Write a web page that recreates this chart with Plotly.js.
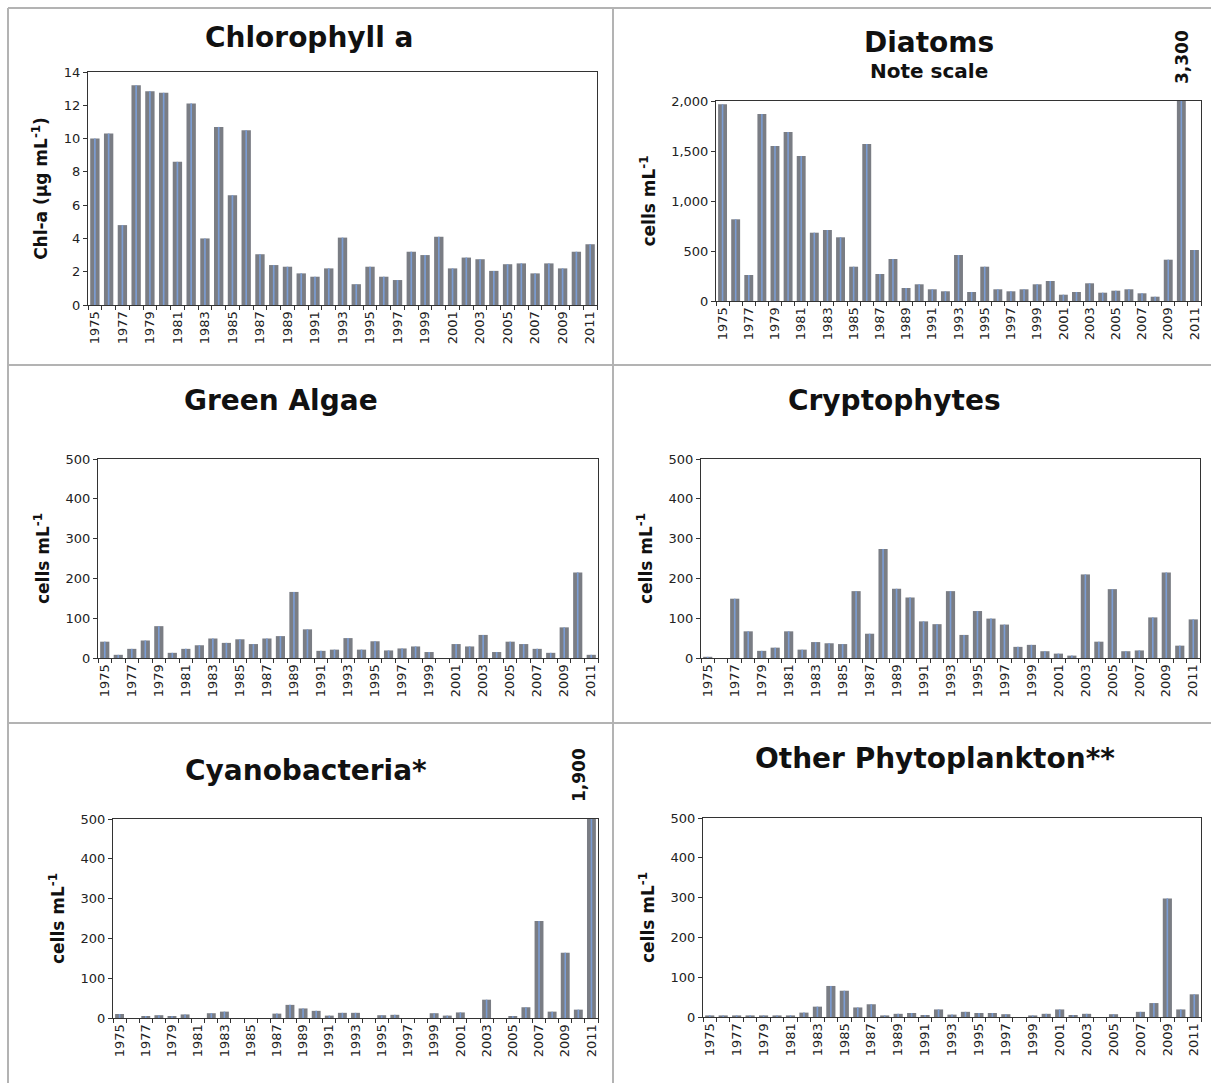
<!DOCTYPE html>
<html><head><meta charset="utf-8">
<script src="https://cdn.plot.ly/plotly-3.0.1.min.js"></script>
<style>html,body{margin:0;padding:0;background:#fff}#chart{width:1211px;height:1083px}</style>
</head><body><div id="chart"></div>
<script>
// ---- data ----
const years = [1975,1976,1977,1978,1979,1980,1981,1982,1983,1984,1985,1986,1987,1988,1989,1990,1991,1992,1993,1994,1995,1996,1997,1998,1999,2000,2001,2002,2003,2004,2005,2006,2007,2008,2009,2010,2011];
const tickYears = [1975,1977,1979,1981,1983,1985,1987,1989,1991,1993,1995,1997,1999,2001,2003,2005,2007,2009,2011];
const tickLabels = ['1975','1977','1979','1981','1983','1985','1987','1989','1991','1993','1995','1997','1999','2001','2003','2005','2007','2009','2011'];

const chlorophyll = [10.0,10.3,4.8,13.2,12.85,12.75,8.6,12.1,4.0,10.7,6.6,10.5,3.05,2.4,2.3,1.9,1.7,2.2,4.05,1.25,2.3,1.7,1.5,3.2,3.0,4.1,2.2,2.85,2.75,2.05,2.45,2.5,1.9,2.5,2.2,3.2,3.65];
const diatoms = [1967,817,260,1870,1550,1690,1450,683,710,637,343,1570,270,420,130,167,117,97,460,90,343,117,97,117,167,200,63,90,177,83,103,117,77,43,413,3300,510];
const greenAlgae = [41,8,23,44,80,13,23,32,49,38,47,35,49,55,166,72,18,21,50,21,42,19,24,29,15,0,35,29,58,15,41,35,23,13,77,215,8];
const cryptophytes = [3,0,149,67,18,26,67,21,40,37,35,168,61,274,174,152,92,85,168,58,118,99,84,28,33,17,11,6,210,41,173,17,19,102,215,31,97];
const cyanobacteria = [10,0,5,7,5,9,0,12,16,0,0,0,11,33,24,18,6,13,13,0,7,8,0,0,12,6,14,0,46,0,5,27,244,16,164,21,1900];
const otherPhyto = [4,4,4,4,4,4,4,11,26,78,66,24,32,4,8,10,5,19,6,13,10,10,7,0,4,8,19,5,8,0,7,0,13,35,298,19,57];

const titles = ['Chlorophyll a','Diatoms','Green Algae','Cryptophytes','Cyanobacteria*','Other Phytoplankton**'];
const yTitles = ['Chl-a (µg mL<sup>-1</sup>)','cells mL<sup>-1</sup>','cells mL<sup>-1</sup>','cells mL<sup>-1</sup>','cells mL<sup>-1</sup>','cells mL<sup>-1</sup>'];
const offScaleNotes = ['3,300','1,900'];

// ---- layout helpers ----
const W = 1211, H = 1083;
const FONT = 'DejaVu Sans, Verdana, sans-serif';
const series = [chlorophyll, diatoms, greenAlgae, cryptophytes, cyanobacteria, otherPhyto];
const boxes = [ // [left, right, top, bottom] in px
  [88, 597, 72, 305],
  [716, 1201, 101, 301],
  [98, 598, 459, 658],
  [701, 1200, 459, 658],
  [113, 598, 819, 1018],
  [703, 1201, 818, 1017]
];
const yRanges = [[0,14],[0,2000],[0,500],[0,500],[0,500],[0,500]];
const yDticks = [2,500,100,100,100,100];
const titlePos = [[309,37],[929,43],[281,400],[894,400],[306,770],[935,758]];

const px = x => x / W;
const py = y => 1 - y / H;

const traces = [];
const layout = {
  width: W, height: H,
  margin: {l:0, r:0, t:0, b:0},
  paper_bgcolor: '#ffffff', plot_bgcolor: '#ffffff',
  showlegend: false,
  barmode: 'overlay',
  font: {family: FONT, color: '#222', size: 12},
  annotations: [],
  shapes: []
};

series.forEach((vals, i) => {
  const n = i + 1;
  const xa = 'x' + (n === 1 ? '' : n), ya = 'y' + (n === 1 ? '' : n);
  traces.push({type:'bar', x: years, y: vals, xaxis: xa, yaxis: ya, width: 0.68,
    marker: {color: '#7a7d84', line: {width: 0}}, hoverinfo: 'x+y'});
  traces.push({type:'bar', x: years, y: vals, xaxis: xa, yaxis: ya, width: 0.12,
    marker: {color: '#7b9dd4', line: {width: 0}}, hoverinfo: 'skip'});
  const b = boxes[i];
  layout['xaxis' + (n === 1 ? '' : n)] = {
    domain: [px(b[0]), px(b[1])], anchor: ya,
    range: [1974.5, 2011.5], tickmode: 'array', tickvals: tickYears, ticktext: tickLabels,
    tickangle: -90, ticks: '', tickfont: {size: 13, color: '#222', family: FONT},
    minor: {tick0: 1974.5, dtick: 1, ticks: 'outside', ticklen: 4, tickcolor: '#333', showgrid: false},
    showline: true, mirror: true, linecolor: '#333', linewidth: 1,
    showgrid: false, zeroline: false, fixedrange: true
  };
  layout['yaxis' + (n === 1 ? '' : n)] = {
    domain: [py(b[3]), py(b[2])], anchor: xa,
    range: yRanges[i], dtick: yDticks[i], tickformat: ',d',
    ticks: 'outside', ticklen: 4, tickcolor: '#333',
    tickfont: {size: 13, color: '#222', family: FONT},
    showline: true, mirror: true, linecolor: '#333', linewidth: 1,
    showgrid: false, zeroline: false, fixedrange: true,
    title: {text: '<b>' + yTitles[i] + '</b>', font: {size: 17, color: '#111', family: FONT}, standoff: 11}
  };
  layout.annotations.push({
    xref: 'paper', yref: 'paper', x: px(titlePos[i][0]), y: py(titlePos[i][1]),
    xanchor: 'center', yanchor: 'middle', showarrow: false,
    text: '<b>' + titles[i] + '</b>', font: {size: 28, color: '#111', family: FONT}
  });
});

layout.annotations.push({xref:'paper', yref:'paper', x: px(929), y: py(71), xanchor:'center', yanchor:'middle', showarrow:false,
  text:'<b>Note scale</b>', font:{size:20, color:'#111', family: FONT}});
layout.annotations.push({xref:'paper', yref:'paper', x: px(1182), y: py(57), xanchor:'center', yanchor:'middle', showarrow:false,
  textangle: -90, text:'<b>' + offScaleNotes[0] + '</b>', font:{size:17, color:'#111', family: FONT}});
layout.annotations.push({xref:'paper', yref:'paper', x: px(579), y: py(775), xanchor:'center', yanchor:'middle', showarrow:false,
  textangle: -90, text:'<b>' + offScaleNotes[1] + '</b>', font:{size:17, color:'#111', family: FONT}});

// panel borders
const bc = {color: '#b3b3b3', width: 2};
[[8,8,1211,8],[8,365,1211,365],[8,723,1211,723],[8,8,8,1083],[613,8,613,1083]].forEach(s => {
  layout.shapes.push({type:'line', xref:'paper', yref:'paper', x0: px(s[0]), y0: py(s[1]), x1: px(s[2]), y1: py(s[3]), line: bc});
});

Plotly.newPlot('chart', traces, layout, {displayModeBar: false, staticPlot: true});
</script>
</body></html>
